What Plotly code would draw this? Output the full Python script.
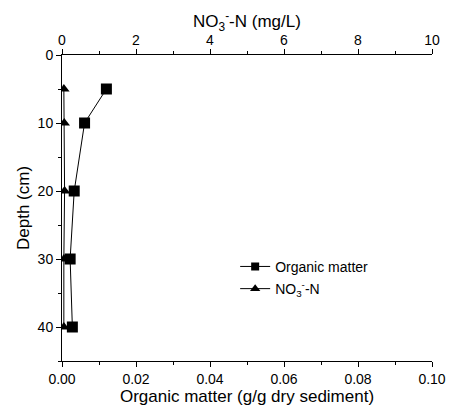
import plotly.graph_objects as go

depth = [5, 10, 20, 30, 40]
organic_matter = [0.012, 0.0061, 0.0033, 0.0022, 0.0028]
no3_n = [0.05, 0.06, 0.07, 0.05, 0.05]

om_name = "Organic matter"
no3_name = "NO<sub>3</sub><sup>-</sup>-N"
top_title = "NO<sub>3</sub><sup>-</sup>-N (mg/L)"

FONT = "Liberation Sans, Arial, sans-serif"

fig = go.Figure()
fig.add_trace(go.Scatter(
    x=organic_matter, y=depth, mode="lines+markers", name=om_name,
    line=dict(color="black", width=1),
    marker=dict(symbol="square", size=11, color="black"),
    xaxis="x", yaxis="y", showlegend=False))
fig.add_trace(go.Scatter(
    x=no3_n, y=depth, mode="lines+markers", name=no3_name,
    line=dict(color="black", width=1),
    marker=dict(symbol="triangle-up", size=10, color="black"),
    xaxis="x2", yaxis="y", showlegend=False))
# legend entries with smaller symbols, as in the reference
fig.add_trace(go.Scatter(
    x=[None], y=[None], mode="lines+markers", name=om_name,
    line=dict(color="black", width=1),
    marker=dict(symbol="square", size=8, color="black"),
    xaxis="x", yaxis="y", legendgroup="a"))
fig.add_trace(go.Scatter(
    x=[None], y=[None], mode="lines+markers", name=no3_name,
    line=dict(color="black", width=1),
    marker=dict(symbol="triangle-up", size=9, color="black"),
    xaxis="x", yaxis="y", legendgroup="b"))

base = dict(
    showgrid=False, zeroline=False, showline=True, linecolor="black", linewidth=1,
    ticks="outside", ticklen=5, tickcolor="black", tickwidth=1,
    tickfont=dict(family=FONT, size=14, color="black"),
)
title_font = dict(family=FONT, size=17, color="black")

fig.update_layout(
    width=458, height=415,
    margin=dict(l=62, r=15, t=55, b=54),
    paper_bgcolor="white", plot_bgcolor="white",
    font=dict(family=FONT, size=14, color="black"),
    showlegend=True,
    legend=dict(x=0.468, y=0.36, xanchor="left", yanchor="top",
                bgcolor="rgba(0,0,0,0)", font=dict(family=FONT, size=14, color="black"),
                tracegroupgap=1, itemwidth=30),
    xaxis=dict(range=[0, 0.1], tickvals=[0, 0.02, 0.04, 0.06, 0.08, 0.10],
               ticktext=["0.00", "0.02", "0.04", "0.06", "0.08", "0.10"],
               title=dict(text="Organic matter (g/g dry sediment)", font=title_font, standoff=2),
               minor=dict(ticks="outside", ticklen=3, tickcolor="black", dtick=0.01),
               **base),
    xaxis2=dict(range=[0, 10], overlaying="x", side="top", anchor="y",
                tickvals=[0, 2, 4, 6, 8, 10], ticklabelstandoff=-2,
                minor=dict(ticks="outside", ticklen=3, tickcolor="black", dtick=1),
                **base),
    yaxis=dict(range=[45, 0], tickvals=[0, 10, 20, 30, 40],
               title=dict(text="Depth (cm)", font=title_font, standoff=3),
               minor=dict(ticks="outside", ticklen=3, tickcolor="black", dtick=5),
               **base),
    annotations=[dict(text=top_title, x=0.5, y=1, xref="paper", yref="paper",
                      xanchor="center", yanchor="middle", yshift=34, showarrow=False,
                      font=title_font)],
)

fig.write_html("out.html")
